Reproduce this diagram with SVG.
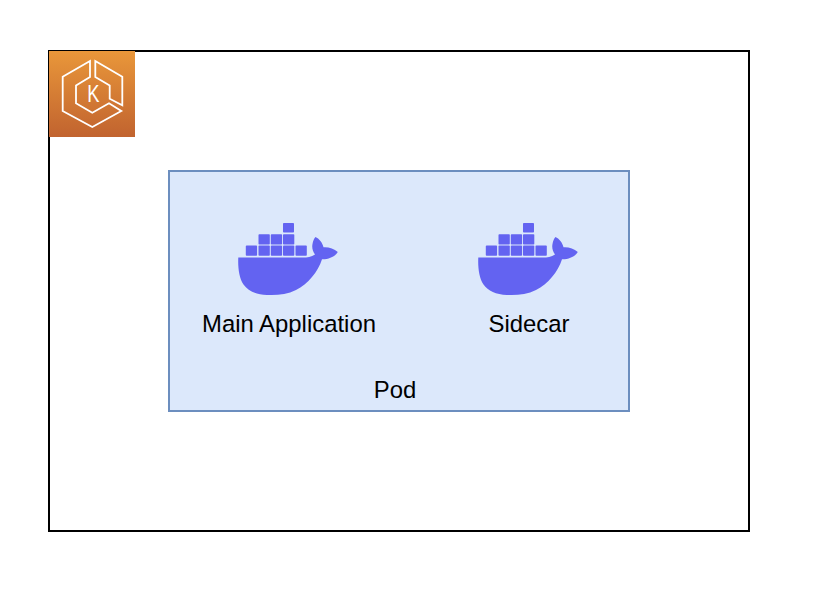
<svg xmlns="http://www.w3.org/2000/svg" width="822" height="590" viewBox="0 0 822 590">
<style>
text{font-family:"Liberation Sans",Arial,sans-serif;font-size:23.9px;fill:#000;text-anchor:middle}
.ln{fill:none;stroke:#fff;stroke-width:1.8;stroke-linejoin:miter}
.w{fill:#6363f1}
</style>
<defs>
<linearGradient id="og" x1="0" y1="1" x2="0" y2="0"><stop offset="0" stop-color="#c1632f"/><stop offset="1" stop-color="#e9973a"/></linearGradient>
<g id="whale">
<rect class="w" x="283" y="223" width="11" height="9.500" rx="0.800"/>
<rect class="w" x="258.500" y="234.300" width="11.300" height="10.200" rx="0.800"/>
<rect class="w" x="270.800" y="234.300" width="11.300" height="10.200" rx="0.800"/>
<rect class="w" x="283" y="234.300" width="11.300" height="10.200" rx="0.800"/>
<rect class="w" x="245.800" y="245.600" width="11.300" height="10.200" rx="0.800"/>
<rect class="w" x="258.500" y="245.600" width="11.300" height="10.200" rx="0.800"/>
<rect class="w" x="270.800" y="245.600" width="11.300" height="10.200" rx="0.800"/>
<rect class="w" x="283" y="245.600" width="11.300" height="10.200" rx="0.800"/>
<rect class="w" x="295.500" y="245.600" width="11.300" height="10.200" rx="0.800"/>
<path class="w" d="M238.300 257.500H303C307 257.500 311.500 257 315 254.500C312.500 251 311.800 247.500 312.500 244C313 241 314 238.500 315.500 237C319 238.500 322.500 242.500 323.500 247.300C328 246.800 334 248.500 337.800 252C335 256.500 329 259.500 322 259.300C318 272 308 284 296 290C287 294.500 277 295.500 267 295C256 294.500 248 291 243.500 284.500C239 278 237.800 267 238.300 257.500Z"/>
</g>
</defs>
<g id="cluster"><rect x="49" y="51" width="700" height="480" fill="#fff" stroke="#000" stroke-width="2"/></g>
<g id="eks-icon">
<rect x="49" y="51" width="86" height="86" fill="url(#og)"/>
<path class="ln" d="M90 61L62.700 76.700V111L92.300 127L121.300 111L109 103.300L92.300 112.700L76 103.300V85.500L90 77Z"/>
<path class="ln" d="M95.300 61L122.300 76.700V105.300L109.700 98.700V85.500L95.300 77Z"/>
<text transform="translate(93.300 102) scale(.8 1)" style="fill:#fff;font-size:23px">K</text>
</g>
<g id="connectors"></g>
<g id="pod"><rect x="169" y="171" width="460" height="240" fill="#dce8fb" stroke="#6c8ebf" stroke-width="2"/><text x="395" y="398">Pod</text></g>
<g id="main-application"><use href="#whale"/><text x="289" y="332">Main Application</text></g>
<g id="sidecar"><use href="#whale" x="240"/><text x="529" y="332">Sidecar</text></g>
</svg>
